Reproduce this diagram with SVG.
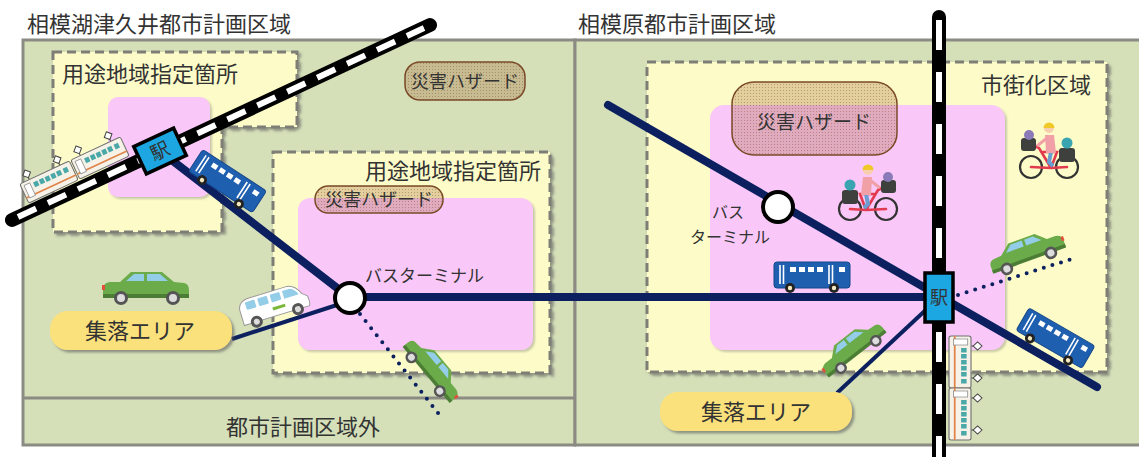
<svg xmlns="http://www.w3.org/2000/svg" width="1139" height="457" viewBox="0 0 1139 457">
<style>
  .t{font-family:"Noto Sans CJK JP","Noto Sans",sans-serif;fill:#333}
  .zone{fill:#d5e0b9;stroke:#8b8b83;stroke-width:3}
  .use{fill:#fdfcc8;stroke:#7e7e76;stroke-width:3;stroke-dasharray:9 5;filter:url(#sh)}
  .pink{fill:#f9c8f8;filter:url(#sh2)}
  .haz{fill:url(#dots);stroke:#7a4a28;stroke-width:1.5}
  .route{stroke:#0c2060;stroke-width:8;stroke-linecap:round;fill:none}
  .feeder{stroke:#0c2060;stroke-width:4;fill:none}
  .dot{stroke:#0c2060;stroke-width:4;stroke-linecap:round;stroke-dasharray:0 9;fill:none}
  .rail-b{stroke:#000;stroke-width:14;stroke-linecap:round;fill:none}
  .rail-w{stroke:#fff;stroke-width:6;fill:none}
  .area{fill:#fbe17b;filter:url(#sh)}
  .term{fill:#fff;stroke:#000;stroke-width:4}
  .sta{fill:#1ca6e2;stroke:#000;stroke-width:3.5}
</style>
<defs>
  <filter id="sh" x="-5%" y="-5%" width="115%" height="120%">
    <feDropShadow dx="2.5" dy="2.5" stdDeviation="1" flood-color="#555" flood-opacity="0.55"/>
  </filter>
  <filter id="sh2" x="-5%" y="-5%" width="115%" height="120%">
    <feDropShadow dx="2" dy="2" stdDeviation="1" flood-color="#777" flood-opacity="0.4"/>
  </filter>
  <pattern id="dots" width="3" height="3" patternUnits="userSpaceOnUse">
    <rect width="3" height="3" fill="#a5683a" fill-opacity="0.3"/>
    <rect width="1" height="1" fill="#6b3a1a" fill-opacity="0.35"/>
  </pattern>

  <!-- passenger car, facing right -->
  <g id="car">
    <path d="M-43,0 Q-43,-6 -36,-7 L-26,-7 L-15,-17 L16,-17 L28,-7 L38,-6 Q43,-5 43,1 L43,8 L-43,8 Z" fill="#6bab4a"/>
    <path d="M-20,-8 L-12,-15 L-2,-15 L-2,-8 Z M1,-8 L1,-15 L14,-15 L22,-8 Z" fill="#93cde8"/>
    <rect x="-43" y="5" width="86" height="4" fill="#4b7d35"/>
    <rect x="-44" y="-4" width="3" height="5" fill="#e0503a"/>
    <circle cx="-25" cy="9" r="7" fill="#555"/><circle cx="-25" cy="9" r="4" fill="#ddd"/>
    <circle cx="27" cy="9" r="7" fill="#555"/><circle cx="27" cy="9" r="4" fill="#ddd"/>
  </g>

  <!-- route bus -->
  <g id="bus">
    <rect x="-38" y="-14" width="76" height="26" rx="3" fill="#1f5fb0" stroke="#15468a"/>
    <g fill="#fff">
      <rect x="-22" y="-9" width="6" height="5"/><rect x="-13" y="-9" width="6" height="5"/>
      <rect x="-4" y="-9" width="6" height="5"/><rect x="5" y="-9" width="6" height="5"/>
      <rect x="27" y="-9" width="6" height="5"/>
    </g>
    <path d="M-32,-11 V8 M-28.5,-11 V8 M17,-11 V8 M20.5,-11 V8" stroke="#fff" stroke-width="1.6"/>
    <circle cx="-22" cy="12" r="5" fill="#222"/><circle cx="-22" cy="12" r="2.2" fill="#f4e8c0"/>
    <circle cx="22" cy="12" r="5" fill="#222"/><circle cx="22" cy="12" r="2.2" fill="#f4e8c0"/>
  </g>

  <!-- community minibus -->
  <g id="van">
    <path d="M-34,8 L-34,-6 Q-33,-14 -24,-15 L18,-15 Q26,-14 30,-4 L35,0 Q36,8 34,10 L-34,10 Z" fill="#fff" stroke="#9a9a9a"/>
    <g fill="#93cde8">
      <rect x="-27" y="-12" width="10" height="8" rx="1"/><rect x="-14" y="-12" width="10" height="8" rx="1"/>
      <rect x="-1" y="-12" width="10" height="8" rx="1"/><path d="M12,-12 L20,-12 Q25,-10 27,-4 L12,-4 Z"/>
    </g>
    <rect x="-2" y="1" width="13" height="3" fill="#7ab83a"/>
    <circle cx="-21" cy="10" r="6" fill="#555"/><circle cx="-21" cy="10" r="3" fill="#ddd"/>
    <circle cx="22" cy="10" r="6" fill="#555"/><circle cx="22" cy="10" r="3" fill="#ddd"/>
  </g>

  <!-- one railcar, roof up -->
  <g id="tcar">
    <path d="M-16,-10 V-12 M16,-10 V-12" stroke="#555" stroke-width="1"/>
    <path d="M-16,-20 L-12,-16 L-16,-12 L-20,-16 Z M16,-20 L20,-16 L16,-12 L12,-16 Z" fill="#fff" stroke="#444" stroke-width="1"/>
    <rect x="-26" y="-10" width="52" height="20" rx="2" fill="#f6f2e8" stroke="#6f6f6f" stroke-width="1"/>
    <rect x="-26" y="4" width="52" height="1.6" fill="#e0844a"/>
    <rect x="-23" y="-7" width="6" height="13" fill="#fff" stroke="#888" stroke-width="0.7"/>
    <g fill="#4aa8a8">
      <rect x="-14" y="-6" width="4.5" height="5"/><rect x="-8" y="-6" width="4.5" height="5"/>
      <rect x="-2" y="-6" width="4.5" height="5"/><rect x="4" y="-6" width="4.5" height="5"/>
      <rect x="10" y="-6" width="4.5" height="5"/><rect x="17" y="-6" width="4.5" height="5"/>
    </g>
  </g>

  <!-- parent with two children on a bicycle, facing left -->
  <g id="bike">
    <circle cx="-18" cy="17" r="11" fill="none" stroke="#333" stroke-width="2.2"/>
    <circle cx="18" cy="17" r="11" fill="none" stroke="#333" stroke-width="2.2"/>
    <path d="M18,17 L2,18 L-18,17 M2,18 L-10,-2 M2,18 L8,2 L-6,2 M-10,-2 L-14,-4" stroke="#e23a4e" stroke-width="2.6" fill="none" stroke-linecap="round"/>
    <rect x="10" y="-2" width="16" height="14" rx="3" fill="#3d403d"/>
    <circle cx="18" cy="-7" r="5.5" fill="#3aa4b0"/>
    <rect x="-28" y="-12" width="15" height="13" rx="3" fill="#3d403d"/>
    <circle cx="-20" cy="-15" r="5" fill="#8a7ab8"/>
    <path d="M2,2 L0,12 L4,16" stroke="#6a9ed0" stroke-width="4" fill="none"/>
    <path d="M-4,-15 L5,-15 L7,3 L-3,3 Z" fill="#f2a0a8"/>
    <path d="M-2,-12 L-12,-4" stroke="#f2a0a8" stroke-width="3"/>
    <circle cx="0" cy="-22" r="5" fill="#f6cfae"/>
    <path d="M-5.5,-22 A5.5,5.5 0 0 1 5.5,-22 Z" fill="#f0c828"/>
  </g>
</defs>

<!-- planning areas -->
<g id="zones">
  <rect class="zone" x="23" y="40" width="552" height="405"/>
  <rect class="zone" x="575" y="40" width="580" height="405"/>
  <line x1="23" y1="398" x2="575" y2="398" stroke="#8b8b83" stroke-width="3"/>
  <text class="t" x="27" y="32" font-size="22">相模湖津久井都市計画区域</text>
  <text class="t" x="578" y="32" font-size="22">相模原都市計画区域</text>
  <text class="t" x="226" y="435" font-size="22">都市計画区域外</text>
</g>

<g id="use-zone-1">
  <path class="use" d="M53,52 H297 V127 H222 V232 H53 Z"/>
  <rect class="pink" x="108" y="97" width="102" height="100" rx="10"/>
  <text class="t" x="62" y="82" font-size="22">用途地域指定箇所</text>
</g>

<g id="use-zone-2">
  <rect class="use" x="273" y="152" width="277" height="221"/>
  <rect class="pink" x="298" y="198" width="235" height="152" rx="12"/>
  <text class="t" x="541" y="179" font-size="22" text-anchor="end">用途地域指定箇所</text>
  <text class="t" x="365" y="282" font-size="17">バスターミナル</text>
</g>

<g id="urban-zone">
  <rect class="use" x="647" y="62" width="460" height="310"/>
  <rect class="pink" x="710" y="105" width="295" height="245" rx="14"/>
  <text class="t" x="1091" y="93" font-size="22" text-anchor="end">市街化区域</text>
  <text class="t" x="712" y="218" font-size="16">バス</text>
  <text class="t" x="690" y="243" font-size="16">ターミナル</text>
</g>

<g id="hazard-1">
  <rect class="haz" x="405" y="62" width="120" height="38" rx="15"/>
  <text class="t" x="465" y="88" font-size="18" text-anchor="middle">災害ハザード</text>
</g>
<g id="hazard-2">
  <rect class="haz" x="315" y="186" width="128" height="27" rx="13"/>
  <text class="t" x="379" y="206" font-size="18" text-anchor="middle">災害ハザード</text>
</g>
<g id="hazard-3">
  <rect class="haz" x="732" y="82" width="165" height="73" rx="22"/>
  <text class="t" x="814" y="129" font-size="19" text-anchor="middle">災害ハザード</text>
</g>

<!-- bus routes and feeder links -->
<g id="connectors">
  <line class="route" x1="160" y1="151" x2="350" y2="298"/>
  <line class="route" x1="350" y1="297" x2="939" y2="297"/>
  <line class="route" x1="608" y1="105" x2="1097" y2="387"/>
  <line class="feeder" x1="232" y1="339" x2="340" y2="304"/>
  <line class="feeder" x1="837" y1="393" x2="930" y2="306"/>
  <line class="dot" x1="360" y1="314" x2="442" y2="418"/>
  <line class="dot" x1="958" y1="295" x2="1078" y2="257"/>
</g>

<!-- railways -->
<g id="rail-1">
  <line class="rail-b" x1="12" y1="220" x2="430" y2="25"/>
  <line class="rail-w" x1="18" y1="217" x2="424" y2="28" stroke-dasharray="20 13"/>
</g>
<g id="rail-2">
  <line class="rail-b" x1="939" y1="17" x2="939" y2="470"/>
  <line class="rail-w" x1="939" y1="20" x2="939" y2="470" stroke-dasharray="30 22"/>
</g>

<!-- vehicles -->
<g id="train-1">
  <use href="#tcar" transform="translate(49,182) rotate(-25) scale(1.05)"/>
  <use href="#tcar" transform="translate(100,158) rotate(-25) scale(1.05)"/>
</g>
<g id="train-2">
  <use href="#tcar" transform="translate(960,362) rotate(90) scale(1,1.1)"/>
  <use href="#tcar" transform="translate(960,414) rotate(90) scale(1,1.1)"/>
</g>
<g id="bus-1"><use href="#bus" transform="translate(227,182) rotate(33)"/></g>
<g id="bus-2"><use href="#bus" transform="translate(812,276)"/></g>
<g id="bus-3"><use href="#bus" transform="translate(1055,339) rotate(30)"/></g>
<g id="van-1"><use href="#van" transform="translate(274,306) rotate(-17)"/></g>
<g id="car-1"><use href="#car" transform="translate(146,289)"/></g>
<g id="car-2"><use href="#car" transform="translate(432,370) rotate(50) scale(-0.85,0.85)"/></g>
<g id="car-3"><use href="#car" transform="translate(1027,253) rotate(-20) scale(-0.9,0.9)"/></g>
<g id="car-4"><use href="#car" transform="translate(853,349) rotate(-38) scale(0.85)"/></g>
<g id="bike-1"><use href="#bike" transform="translate(868,192) scale(-1,1)"/></g>
<g id="bike-2"><use href="#bike" transform="translate(1049,150)"/></g>

<!-- stations and terminals -->
<g id="station-1" transform="translate(160,151) rotate(-25)">
  <rect class="sta" x="-22" y="-15" width="44" height="30"/>
  <text class="t" x="0" y="7" font-size="19" text-anchor="middle" fill="#1a2a50">駅</text>
</g>
<g id="station-2">
  <rect class="sta" x="925" y="273" width="28" height="49"/>
  <text class="t" x="939" y="304" font-size="18" text-anchor="middle">駅</text>
</g>
<g id="terminal-1"><circle class="term" cx="350" cy="298" r="15"/></g>
<g id="terminal-2"><circle class="term" cx="778" cy="207" r="15"/></g>

<!-- settlement areas -->
<g id="settlement-1">
  <rect class="area" x="50" y="311" width="182" height="39" rx="18"/>
  <text class="t" x="140" y="339" font-size="22" text-anchor="middle">集落エリア</text>
</g>
<g id="settlement-2">
  <rect class="area" x="660" y="392" width="192" height="39" rx="18"/>
  <text class="t" x="756" y="420" font-size="22" text-anchor="middle">集落エリア</text>
</g>
</svg>
